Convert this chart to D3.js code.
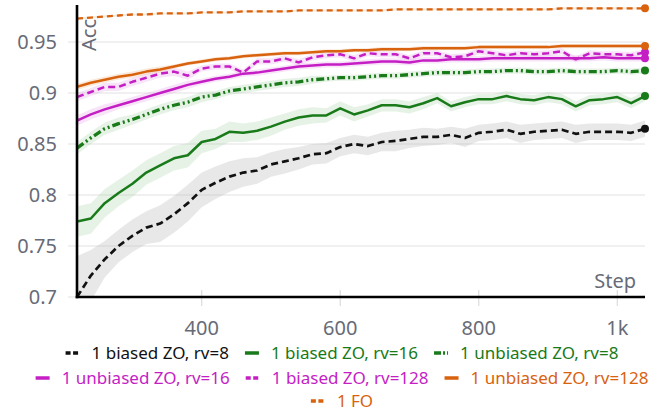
<!DOCTYPE html>
<html><head><meta charset="utf-8">
<script src="https://cdn.jsdelivr.net/npm/d3@7/dist/d3.min.js"></script>
<style>body{margin:0;background:#fff}svg{display:block}</style>
</head><body><svg id="c" width="668" height="414"></svg>
<script>
const steps = [220,240,260,280,300,320,340,360,380,400,420,440,460,480,500,520,540,560,580,600,620,640,660,680,700,720,740,760,780,800,820,840,860,880,900,920,940,960,980,1000,1020,1040];

const biasedRv8 = [0.700,0.721,0.737,0.750,0.760,0.768,0.772,0.781,0.792,0.805,0.812,0.818,0.822,0.824,0.830,0.833,0.836,0.840,0.841,0.847,0.850,0.848,0.852,0.853,0.855,0.857,0.857,0.859,0.856,0.861,0.862,0.864,0.860,0.862,0.863,0.864,0.860,0.862,0.862,0.862,0.861,0.865];
const biasedRv8Spread = [0.040,0.025,0.018,0.016,0.016,0.016,0.018,0.018,0.018,0.017,0.016,0.015,0.014,0.013,0.012,0.012,0.011,0.010,0.010,0.009,0.009,0.009,0.009,0.010,0.009,0.009,0.008,0.008,0.009,0.008,0.008,0.008,0.009,0.008,0.008,0.008,0.009,0.008,0.008,0.008,0.008,0.008];

const biasedRv16 = [0.774,0.777,0.792,0.802,0.811,0.822,0.829,0.836,0.839,0.852,0.855,0.862,0.861,0.863,0.867,0.872,0.876,0.878,0.878,0.885,0.879,0.883,0.888,0.888,0.886,0.890,0.895,0.887,0.891,0.894,0.894,0.897,0.894,0.893,0.896,0.894,0.887,0.893,0.894,0.896,0.890,0.897];
const biasedRv16Spread = [0.015,0.015,0.014,0.013,0.013,0.012,0.012,0.012,0.012,0.011,0.010,0.010,0.009,0.009,0.009,0.008,0.008,0.008,0.007,0.007,0.007,0.006,0.006,0.006,0.006,0.006,0.005,0.005,0.005,0.005,0.005,0.005,0.005,0.005,0.005,0.005,0.005,0.005,0.005,0.005,0.005,0.005];

const unbiasedRv8 = [0.846,0.856,0.865,0.870,0.874,0.879,0.884,0.888,0.891,0.896,0.898,0.902,0.904,0.906,0.908,0.910,0.911,0.913,0.914,0.915,0.915,0.916,0.917,0.917,0.918,0.919,0.920,0.920,0.920,0.921,0.921,0.922,0.922,0.921,0.921,0.922,0.921,0.921,0.921,0.922,0.921,0.922];
const unbiasedRv8Spread = [0.006,0.006,0.006,0.006,0.005,0.005,0.005,0.005,0.005,0.005,0.004,0.004,0.004,0.004,0.004,0.004,0.004,0.004,0.003,0.003,0.003,0.003,0.003,0.003,0.003,0.003,0.003,0.003,0.003,0.003,0.003,0.003,0.003,0.003,0.003,0.003,0.003,0.003,0.003,0.003,0.003,0.003];

const unbiasedRv16 = [0.873,0.879,0.884,0.888,0.892,0.896,0.900,0.904,0.908,0.911,0.914,0.916,0.919,0.920,0.922,0.924,0.926,0.927,0.928,0.928,0.929,0.930,0.931,0.931,0.930,0.932,0.932,0.933,0.933,0.933,0.934,0.934,0.934,0.934,0.934,0.934,0.934,0.934,0.935,0.934,0.934,0.934];
const unbiasedRv16Spread = [0.005,0.005,0.005,0.004,0.004,0.004,0.004,0.004,0.004,0.003,0.003,0.003,0.003,0.003,0.003,0.003,0.003,0.003,0.003,0.003,0.003,0.003,0.003,0.003,0.003,0.003,0.003,0.003,0.003,0.003,0.003,0.003,0.003,0.003,0.003,0.003,0.003,0.003,0.003,0.003,0.003,0.003];

const biasedRv128 = [0.896,0.901,0.906,0.906,0.911,0.915,0.919,0.921,0.917,0.924,0.926,0.926,0.920,0.931,0.931,0.934,0.930,0.935,0.937,0.938,0.934,0.939,0.938,0.938,0.934,0.939,0.939,0.935,0.936,0.941,0.939,0.937,0.939,0.938,0.939,0.941,0.933,0.939,0.938,0.938,0.937,0.940];
const biasedRv128Spread = [0.004,0.004,0.004,0.004,0.004,0.004,0.004,0.004,0.004,0.003,0.003,0.003,0.003,0.003,0.003,0.003,0.003,0.003,0.003,0.003,0.003,0.003,0.003,0.003,0.003,0.003,0.003,0.003,0.003,0.003,0.003,0.003,0.003,0.003,0.003,0.003,0.003,0.003,0.003,0.003,0.003,0.003];

const unbiasedRv128 = [0.906,0.910,0.913,0.916,0.918,0.921,0.923,0.926,0.929,0.931,0.933,0.934,0.936,0.937,0.938,0.939,0.939,0.940,0.941,0.941,0.942,0.942,0.943,0.943,0.943,0.944,0.944,0.944,0.944,0.945,0.945,0.945,0.945,0.945,0.945,0.946,0.946,0.946,0.946,0.946,0.946,0.946];
const unbiasedRv128Spread = [0.003,0.003,0.003,0.003,0.003,0.003,0.003,0.002,0.002,0.002,0.002,0.002,0.002,0.002,0.002,0.002,0.002,0.002,0.002,0.002,0.002,0.002,0.002,0.002,0.002,0.002,0.002,0.002,0.002,0.002,0.002,0.002,0.002,0.002,0.002,0.002,0.002,0.002,0.002,0.002,0.002,0.002];

const fo = [0.973,0.974,0.975,0.976,0.977,0.977,0.978,0.978,0.978,0.979,0.979,0.979,0.980,0.980,0.980,0.980,0.981,0.981,0.981,0.981,0.981,0.981,0.981,0.982,0.982,0.982,0.982,0.982,0.982,0.982,0.982,0.982,0.982,0.982,0.982,0.983,0.983,0.983,0.983,0.983,0.983,0.983];
const foSpread = [0.001,0.001,0.001,0.001,0.001,0.001,0.001,0.001,0.001,0.001,0.001,0.001,0.001,0.001,0.001,0.001,0.001,0.001,0.001,0.001,0.001,0.001,0.001,0.001,0.001,0.001,0.001,0.001,0.001,0.001,0.001,0.001,0.001,0.001,0.001,0.001,0.001,0.001,0.001,0.001,0.001,0.001];

const seriesNames = ["1 biased ZO, rv=8","1 biased ZO, rv=16","1 unbiased ZO, rv=8","1 unbiased ZO, rv=16","1 biased ZO, rv=128","1 unbiased ZO, rv=128","1 FO"];
const yTicks = [0.7,0.75,0.8,0.85,0.9,0.95];
const yTickLabels = ["0.7","0.75","0.8","0.85","0.9","0.95"];
const xTicks = [400,600,800,1000];
const xTickLabels = ["400","600","800","1k"];

const BLACK="#111111", GREEN="#187a18", MAG="#c41ec4", ORANGE="#d8620e";
const series = [
  {name:seriesNames[0], v:biasedRv8, s:biasedRv8Spread, color:BLACK, band:"#bdbdbd", bo:0.35, dash:"7,4", w:2.7},
  {name:seriesNames[1], v:biasedRv16, s:biasedRv16Spread, color:GREEN, band:"#9fcb9f", bo:0.25, dash:null, w:2.5},
  {name:seriesNames[2], v:unbiasedRv8, s:unbiasedRv8Spread, color:GREEN, band:"#9fcb9f", bo:0.25, dash:"8,3,2,3,2,3", w:3.3},
  {name:seriesNames[3], v:unbiasedRv16, s:unbiasedRv16Spread, color:MAG, band:"#e9a6e9", bo:0.3, dash:null, w:2.5},
  {name:seriesNames[4], v:biasedRv128, s:biasedRv128Spread, color:MAG, band:"#e9a6e9", bo:0.3, dash:"7,4", w:2.5},
  {name:seriesNames[5], v:unbiasedRv128, s:unbiasedRv128Spread, color:ORANGE, band:"#f0b890", bo:0.3, dash:null, w:2.5},
  {name:seriesNames[6], v:fo, s:foSpread, color:ORANGE, band:"#f0b890", bo:0.3, dash:"6,4", w:2.3}
];

const FONT = "'Noto Sans','Open Sans',sans-serif";
const L=77, R=645, T=5, B=297;
const x = d3.scaleLinear().domain([220,1040]).range([L,R]);
const y = d3.scaleLinear().domain([0.7,0.9863]).range([B,T]);

const svg = d3.select("#c");
svg.append("defs").append("clipPath").attr("id","clip")
  .append("rect").attr("x",L).attr("y",T).attr("width",R-L+6).attr("height",B-T);

// gridlines
svg.append("g").selectAll("line").data(yTicks).join("line")
  .attr("x1",68).attr("x2",R).attr("y1",d=>y(d)).attr("y2",d=>y(d))
  .attr("stroke","#ebebeb").attr("stroke-width",1.5);
// y tick labels
svg.append("g").selectAll("text").data(yTicks).join("text")
  .attr("x",57).attr("y",d=>y(d)).attr("dy","0.35em").attr("text-anchor","end")
  .attr("font-family",FONT).attr("font-size",20).attr("fill","#676b77")
  .text((d,i)=>yTickLabels[i]);
// x ticks
svg.append("g").selectAll("line").data(xTicks).join("line")
  .attr("x1",d=>x(d)).attr("x2",d=>x(d)).attr("y1",290).attr("y2",306)
  .attr("stroke","#dcdcdc").attr("stroke-width",1.2);
svg.append("g").selectAll("text").data(xTicks).join("text")
  .attr("x",d=>x(d)).attr("y",328).attr("dy","0.35em").attr("text-anchor","middle")
  .attr("font-family",FONT).attr("font-size",20).attr("fill","#676b77")
  .text((d,i)=>xTickLabels[i]);

const plot = svg.append("g").attr("clip-path","url(#clip)");
const area = d3.area().x((d,i)=>x(steps[i])).y0(d=>y(d[0])).y1(d=>y(d[1]));
const line = d3.line().x((d,i)=>x(steps[i])).y(d=>y(d));
series.forEach(s=>{
  plot.append("path").datum(s.v.map((v,i)=>[v-s.s[i], v+s.s[i]]))
    .attr("d",area).attr("fill",s.band).attr("opacity",s.bo);
});
series.forEach(s=>{
  plot.append("path").datum(s.v).attr("d",line).attr("fill","none")
    .attr("stroke",s.color).attr("stroke-width",s.w)
    .attr("stroke-dasharray",s.dash).attr("stroke-linejoin","round");
});
series.forEach(s=>{
  svg.append("circle").attr("cx",x(steps[steps.length-1])).attr("cy",y(s.v[s.v.length-1]))
    .attr("r",4).attr("fill",s.color);
});

// axes
svg.append("line").attr("x1",L).attr("x2",L).attr("y1",T).attr("y2",B+1.3)
  .attr("stroke","#000").attr("stroke-width",2.6);
svg.append("line").attr("x1",L-1.3).attr("x2",R).attr("y1",B).attr("y2",B)
  .attr("stroke","#000").attr("stroke-width",2.6);

// axis titles
svg.append("text").attr("transform",`translate(${L+19},${35}) rotate(-90)`)
  .attr("text-anchor","middle").attr("font-family",FONT).attr("font-size",20)
  .attr("fill","#676b77").text("Acc");
svg.append("text").attr("x",636).attr("y",288).attr("text-anchor","end")
  .attr("font-family",FONT).attr("font-size",20).attr("fill","#676b77").text("Step");

// legend
const rows = [[0,1,2],[3,4,5],[6]];
const rowY = [353,378,401];
const legCenter = 342;
rows.forEach((r,ri)=>{
  const g = svg.append("g");
  let cx = 0;
  r.forEach((si,k)=>{
    const s = series[si];
    const ig = g.append("g").attr("transform",`translate(${cx},0)`);
    ig.append("line").attr("x1",0).attr("x2",14).attr("y1",0).attr("y2",0)
      .attr("stroke",s.color).attr("stroke-width",3.5)
      .attr("stroke-dasharray", s.dash ? (si===2?"7,2,2,2,2,2":"5,2.5") : null);
    const t = ig.append("text").attr("x",26).attr("y",0).attr("dy","0.35em")
      .attr("font-family",FONT).attr("font-size",17).attr("fill",s.color).text(s.name);
    cx += 26 + t.node().getComputedTextLength() + 16;
  });
  const w = cx - 16;
  g.attr("transform",`translate(${legCenter - w/2},${rowY[ri]})`);
});
</script></body></html>
